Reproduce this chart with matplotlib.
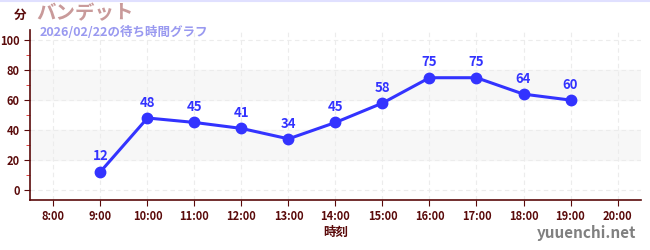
import numpy as np
import matplotlib
matplotlib.use("Agg")
import matplotlib.pyplot as plt
from matplotlib.ticker import MultipleLocator

plt.rcParams['font.family'] = ['Noto Sans CJK JP', 'DejaVu Sans']

# データ
hours = [9, 10, 11, 12, 13, 14, 15, 16, 17, 18, 19]
waits = [12, 48, 45, 41, 34, 45, 58, 75, 75, 64, 60]
tickHours = list(range(8, 21))
tickLabels = [f"{h}:00" for h in tickHours]
bands = [(20, 40), (60, 80)]

axisColor = '#5a0a0a'
lineColor = '#3333ff'

fig = plt.figure(figsize=(6.5, 2.5), dpi=100)
ax = fig.add_axes([30/650, 50/250, 611/650, 170/250])

for lo, hi in bands:
    ax.axhspan(lo, hi, color='#f7f7f7', zorder=0)

ax.plot(hours, waits, color=lineColor, lw=2.2, marker='o', markersize=7.5, zorder=3)
for h, w in zip(hours, waits):
    ax.annotate(str(w), (h, w), xytext=(0, 6), textcoords='offset points',
                ha='center', va='bottom', color=lineColor, fontsize=9.5, fontweight='bold')

ax.set_xlim(7.5, 20.5)
ax.set_ylim(-7, 107)
ax.set_xticks(tickHours)
ax.set_xticklabels(tickLabels)
ax.set_yticks([0, 20, 40, 60, 80, 100])
ax.yaxis.set_minor_locator(MultipleLocator(10))
ax.tick_params(axis='y', which='minor', length=3, color='#dd2222')
ax.tick_params(axis='both', which='major', length=4, color=axisColor, labelcolor=axisColor,
               labelsize=8)
for lab in ax.get_xticklabels() + ax.get_yticklabels():
    lab.set_fontweight('bold')

ax.grid(True, which='major', color='#ececec', linestyle=(0, (4, 3)), lw=0.8, zorder=1)
for s in ['top', 'right']:
    ax.spines[s].set_visible(False)
for s in ['left', 'bottom']:
    ax.spines[s].set_color(axisColor)
    ax.spines[s].set_linewidth(1.2)

ax.set_xlabel('時刻', color=axisColor, fontsize=9, fontweight='bold', labelpad=2)

fig.text(14/650, 1-15/250, '分', color=axisColor, fontsize=9, fontweight='bold', va='center')
fig.text(36/650, 1-14/250, 'バンデット', color='#c99a9a', fontsize=14, fontweight='bold', va='center')
fig.text(40/650, 1-32/250, '2026/02/22の待ち時間グラフ', color='#9999f0', fontsize=9,
         fontweight='bold', va='center')
fig.text(636/650, 1-233/250, 'yuuenchi.net', color='#808080', fontsize=11, fontweight='bold',
         ha='right', va='center')
fig.add_artist(plt.Line2D([0, 1], [0.998, 0.998], color='#e0e0ff', lw=1.5))

fig.savefig('out.png', dpi=100)
